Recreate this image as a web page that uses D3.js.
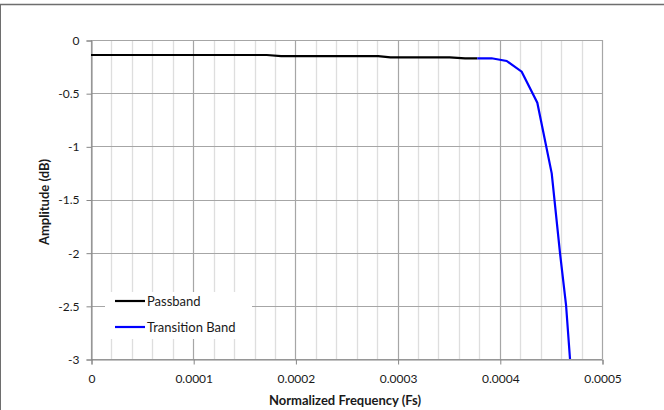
<!DOCTYPE html>
<html><head><meta charset="utf-8">
<script src="https://cdn.jsdelivr.net/npm/d3@7"></script>
<style>body{margin:0;background:#fff}svg{display:block}text{font-family:Lato,"Open Sans",sans-serif}</style>
</head><body>
<svg id="c" width="664" height="410"></svg>
<script>
const passFreq = [0, 0.000172, 0.000186, 0.000281, 0.000293, 0.000351, 0.000366, 0.000378];
const passAmp  = [-0.141, -0.141, -0.151, -0.151, -0.163, -0.163, -0.172, -0.172];
const transFreq = [0.000378, 0.000392, 0.0004067, 0.0004214, 0.0004367, 0.0004508, 0.0004589, 0.0004648, 0.0004687];
const transAmp  = [-0.172, -0.172, -0.197, -0.298, -0.590, -1.254, -2.003, -2.49, -3.0];
const xTicks = [0, 0.0001, 0.0002, 0.0003, 0.0004, 0.0005];
const xTickLabels = ["0", "0.0001", "0.0002", "0.0003", "0.0004", "0.0005"];
const yTicks = [0, -0.5, -1, -1.5, -2, -2.5, -3];
const yTickLabels = ["0", "-0.5", "-1", "-1.5", "-2", "-2.5", "-3"];
const seriesNames = ["Passband", "Transition Band"];
const seriesColors = ["#000000", "#0000ff"];

const svg = d3.select("#c");
const L = 91, R = 602, T = 40, B = 359;
const x = d3.scaleLinear().domain([0, 0.0005]).range([L, R]);
const y = d3.scaleLinear().domain([0, -3]).range([T, B]);

// frame
svg.append("line").attr("x1",0).attr("x2",664).attr("y1",4.5).attr("y2",4.5).attr("stroke","#6e6e6e").attr("stroke-width",1.5);
svg.append("line").attr("x1",0.5).attr("x2",0.5).attr("y1",4).attr("y2",410).attr("stroke","#6e6e6e").attr("stroke-width",1);

// minor vertical gridlines
const minor = d3.range(0, 25).map(i => i * 0.00002).filter((v,i) => i % 5 !== 0);
svg.append("g").selectAll("line").data(minor).join("line")
  .attr("x1", d => Math.round(x(d))+0.5).attr("x2", d => Math.round(x(d))+0.5)
  .attr("y1", T).attr("y2", B).attr("stroke", "#dedede").attr("stroke-width", 1.3);
// major vertical gridlines
svg.append("g").selectAll("line").data(xTicks).join("line")
  .attr("x1", d => Math.round(x(d))+0.5).attr("x2", d => Math.round(x(d))+0.5)
  .attr("y1", T).attr("y2", B).attr("stroke", "#a6a6a6").attr("stroke-width", 1.2);
// horizontal gridlines
svg.append("g").selectAll("line").data(yTicks).join("line")
  .attr("x1", L).attr("x2", R).attr("y1", d => Math.round(y(d))+0.5).attr("y2", d => Math.round(y(d))+0.5)
  .attr("stroke", "#a6a6a6").attr("stroke-width", 1.2);

// axes
const xAxis = d3.axisBottom(x).tickValues(xTicks).tickFormat((d,i) => xTickLabels[i]).tickSize(5).tickPadding(10);
const gx = svg.append("g").attr("transform", `translate(0.5,${B+0.5})`).call(xAxis);
gx.select(".domain").attr("stroke", "#868686");
gx.selectAll(".tick line").attr("stroke", "#868686");
gx.selectAll("text").attr("font-size", 12).attr("fill", "#1a1a1a");

const yAxis = d3.axisLeft(y).tickValues(yTicks).tickFormat((d,i) => yTickLabels[i]).tickSize(5).tickPadding(7);
const gy = svg.append("g").attr("transform", `translate(${L+0.5},0.5)`).call(yAxis);
gy.select(".domain").attr("stroke", "#868686");
gy.selectAll(".tick line").attr("stroke", "#868686");
gy.selectAll("text").attr("font-size", 12).attr("fill", "#1a1a1a");

// lines
svg.append("clipPath").attr("id","clip").append("rect").attr("x",L).attr("y",T-2).attr("width",R-L).attr("height",B-T+2);
const line = d3.line().x(d => x(d[0])).y(d => y(d[1]));
const passData = passFreq.map((f,i) => [f, passAmp[i]]);
const transData = transFreq.map((f,i) => [f, transAmp[i]]);
svg.append("path").datum(passData).attr("d", line).attr("fill","none").attr("stroke", seriesColors[0]).attr("stroke-width", 2.2).attr("clip-path","url(#clip)");
svg.append("path").datum(transData).attr("d", line).attr("fill","none").attr("stroke", seriesColors[1]).attr("stroke-width", 2.2).attr("clip-path","url(#clip)");

// legend
const lg = svg.append("g");
lg.append("rect").attr("x",105).attr("y",292).attr("width",147).attr("height",47).attr("fill","#fff");
seriesNames.forEach((n,i) => {
  const yy = 301 + i*26;
  lg.append("line").attr("x1",115).attr("x2",145).attr("y1",yy).attr("y2",yy).attr("stroke",seriesColors[i]).attr("stroke-width",2.2);
  lg.append("text").attr("x",147).attr("y",yy+4.5).attr("font-size",13).attr("fill","#1a1a1a").text(n);
});

// axis titles
svg.append("text").attr("x", 345).attr("y", 405).attr("text-anchor","middle").attr("font-size",13).attr("font-weight","bold").attr("fill","#1a1a1a").text("Normalized Frequency (Fs)");
svg.append("text").attr("transform","translate(49,202) rotate(-90)").attr("text-anchor","middle").attr("font-size",13).attr("font-weight","bold").attr("fill","#1a1a1a").text("Amplitude (dB)");
</script>
</body></html>
